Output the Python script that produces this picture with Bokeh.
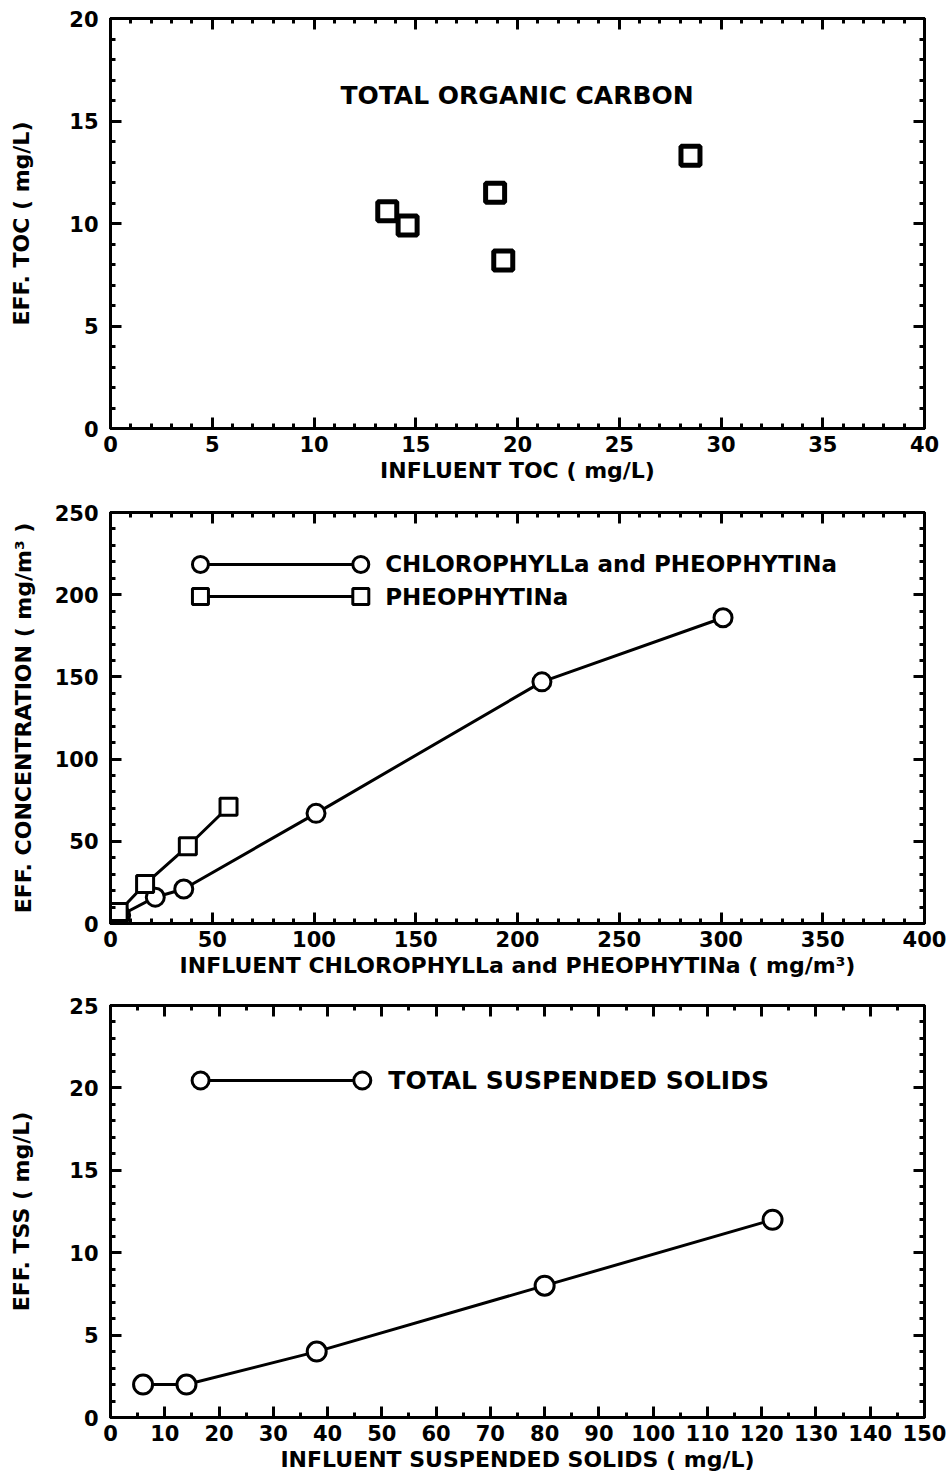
from bokeh.plotting import figure
from bokeh.models import Range1d, LinearAxis, SingleIntervalTicker, FixedTicker
from bokeh.layouts import column
from bokeh.embed import file_html
from bokeh.resources import INLINE
from bokeh.core.properties import value

# ---------------- data ----------------
# Panel 1: total organic carbon
toc_influent = [13.6, 14.6, 18.9, 19.3, 28.5]
toc_effluent = [10.6, 9.9, 11.5, 8.2, 13.3]

# Panel 2: chlorophyll a + pheophytin a, and pheophytin a
chl_influent = [5, 22, 36, 101, 212, 301]
chl_effluent = [5, 16, 21, 67, 147, 186]
pheo_influent = [4, 17, 38, 58]
pheo_effluent = [7, 24, 47, 71]

# Panel 3: total suspended solids
tss_influent = [6, 14, 38, 80, 122]
tss_effluent = [2, 2, 4, 8, 12]

labels = {
    "toc_x": "INFLUENT TOC ( mg/L)",
    "toc_y": "EFF. TOC ( mg/L)",
    "toc_title": "TOTAL ORGANIC CARBON",
    "chl_x": "INFLUENT CHLOROPHYLLa and PHEOPHYTINa ( mg/m\u00b3)",
    "chl_y": "EFF. CONCENTRATION ( mg/m\u00b3 )",
    "chl_leg1": "CHLOROPHYLLa and PHEOPHYTINa",
    "chl_leg2": "PHEOPHYTINa",
    "tss_x": "INFLUENT SUSPENDED SOLIDS ( mg/L)",
    "tss_y": "EFF. TSS ( mg/L)",
    "tss_leg": "TOTAL SUSPENDED SOLIDS",
}

FONT = "DejaVu Sans"


def tick_axis(positions, length):
    """Unlabelled mirror axis: only (minor) tick marks, no labels."""
    ax = LinearAxis(ticker=FixedTicker(ticks=[], minor_ticks=positions))
    ax.axis_line_width = 3
    ax.axis_line_color = "black"
    ax.major_tick_in = 0
    ax.major_tick_out = 0
    ax.minor_tick_in = length
    ax.minor_tick_out = 0
    ax.minor_tick_line_width = 3
    ax.minor_tick_line_color = "black"
    ax.major_label_standoff = 0
    return ax


def make_fig(xmax, ymax, xint, xminor, yint, yminor, frame_h, top, bottom,
             xlabel, ylabel, ylab_standoff):
    p = figure(frame_width=814, frame_height=frame_h,
               x_range=Range1d(0, xmax), y_range=Range1d(0, ymax),
               output_backend="svg", toolbar_location=None,
               min_border_left=110, min_border_right=22,
               min_border_top=top, min_border_bottom=bottom,
               x_axis_location=None, y_axis_location=None)
    p.xgrid.visible = False
    p.ygrid.visible = False
    p.outline_line_color = "black"
    p.outline_line_width = 3
    p.outline_line_alpha = 1

    def axis(ticker_int, nminor, label):
        ax = LinearAxis(ticker=SingleIntervalTicker(interval=ticker_int, num_minor_ticks=nminor))
        ax.axis_line_width = 3
        ax.axis_line_color = "black"
        ax.major_tick_in = 11
        ax.major_tick_out = 0
        ax.minor_tick_in = 5
        ax.minor_tick_out = 0
        ax.major_tick_line_width = 3
        ax.minor_tick_line_width = 3
        ax.major_tick_line_color = "black"
        ax.minor_tick_line_color = "black"
        ax.major_label_text_font = FONT
        ax.major_label_text_font_style = "bold"
        ax.major_label_text_font_size = "21px"
        ax.major_label_text_color = "black"
        ax.axis_label = label
        ax.axis_label_text_font = FONT
        ax.axis_label_text_font_style = "bold"
        ax.axis_label_text_font_size = "22px"
        ax.axis_label_text_color = "black"
        return ax

    bx = axis(xint, xminor, xlabel)
    bx.major_label_standoff = 7
    bx.axis_label_standoff = 3
    p.add_layout(bx, "below")
    ly = axis(yint, yminor, ylabel)
    ly.major_label_standoff = 12
    ly.axis_label_standoff = ylab_standoff
    p.add_layout(ly, "left")

    # mirrored tick marks on top and right (no labels)
    xstep = xint / xminor
    ystep = yint / yminor
    x_minor_pos = [i * xstep for i in range(int(round(xmax / xstep)) + 1)]
    x_major_pos = [i * xint for i in range(int(round(xmax / xint)) + 1)]
    y_minor_pos = [i * ystep for i in range(int(round(ymax / ystep)) + 1)]
    y_major_pos = [i * yint for i in range(int(round(ymax / yint)) + 1)]
    p.add_layout(tick_axis(x_minor_pos, 5), "above")
    p.add_layout(tick_axis(x_major_pos, 11), "above")
    p.add_layout(tick_axis(y_minor_pos, 5), "right")
    p.add_layout(tick_axis(y_major_pos, 11), "right")
    return p


# ---------------- panel 1 ----------------
p1 = make_fig(40, 20, 5, 5, 5, 5, 410, 18, 62, labels["toc_x"], labels["toc_y"], 32)
p1.scatter(toc_influent, toc_effluent, marker="square", size=19,
           line_color="black", line_width=5, fill_color="white")
p1.text(x=[11.3], y=[16.25], text=[labels["toc_title"]], text_font=value(FONT),
        text_font_style="bold", text_font_size="25px", text_baseline="middle",
        text_align="left", text_color="black")

# ---------------- panel 2 ----------------
p2 = make_fig(400, 250, 50, 5, 50, 5, 411, 22, 62, labels["chl_x"], labels["chl_y"], 16)
p2.line(chl_influent, chl_effluent, line_color="black", line_width=3)
p2.scatter(chl_influent, chl_effluent, marker="circle", size=18,
           line_color="black", line_width=3, fill_color="white")
p2.line(pheo_influent, pheo_effluent, line_color="black", line_width=3)
p2.scatter(pheo_influent, pheo_effluent, marker="square", size=17,
           line_color="black", line_width=3, fill_color="white")
# legend (drawn in data units)
leg_x0, leg_x1, leg_tx = 44.2, 123, 135
for yy, mk, lab in [(218.4, "circle", labels["chl_leg1"]), (198.9, "square", labels["chl_leg2"])]:
    p2.line([leg_x0, leg_x1], [yy, yy], line_color="black", line_width=3)
    p2.scatter([leg_x0, leg_x1], [yy, yy], marker=mk, size=16,
               line_color="black", line_width=3, fill_color="white")
    p2.text(x=[leg_tx], y=[yy], text=[lab], text_font=value(FONT),
            text_font_style="bold", text_font_size="23px", text_baseline="middle",
            text_align="left", text_color="black")

# ---------------- panel 3 ----------------
p3 = make_fig(150, 25, 10, 2, 5, 5, 412, 20, 57, labels["tss_x"], labels["tss_y"], 32)
p3.line(tss_influent, tss_effluent, line_color="black", line_width=3)
p3.scatter(tss_influent, tss_effluent, marker="circle", size=19,
           line_color="black", line_width=3, fill_color="white")
t_x0, t_x1, t_tx, t_y = 16.6, 46.4, 51.2, 20.45
p3.line([t_x0, t_x1], [t_y, t_y], line_color="black", line_width=3)
p3.scatter([t_x0, t_x1], [t_y, t_y], marker="circle", size=17,
           line_color="black", line_width=3, fill_color="white")
p3.text(x=[t_tx], y=[t_y], text=[labels["tss_leg"]], text_font=value(FONT),
        text_font_style="bold", text_font_size="25px", text_baseline="middle",
        text_align="left", text_color="black")

layout = column(p1, p2, p3, spacing=0)
open("out.html", "w").write(file_html(layout, INLINE))
